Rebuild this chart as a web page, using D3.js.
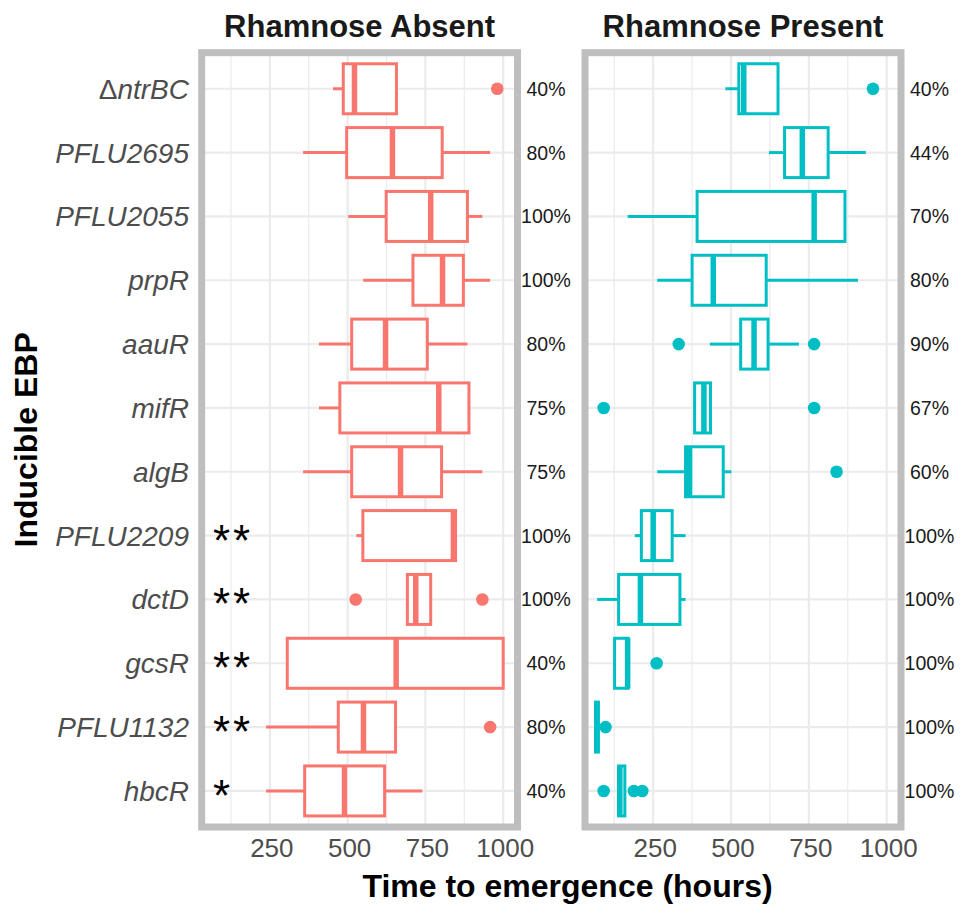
<!DOCTYPE html>
<html>
<head>
<meta charset="utf-8">
<script src="https://cdn.jsdelivr.net/npm/d3@7"></script>
<style>
  body { margin: 0; background: #fff; }
  text { font-family: "Liberation Sans", Arial, sans-serif; }
</style>
</head>
<body>
<svg width="960" height="905"></svg>
<script>
// inducible EBP, top to bottom
const categories = ["ΔntrBC", "PFLU2695", "PFLU2055", "prpR", "aauR", "mifR",
                    "algB", "PFLU2209", "dctD", "gcsR", "PFLU1132", "hbcR"];

// rhamnose absent: whisker low, Q1, median, Q3, whisker high, outliers
const absentLow  = [453, 357, 502, 550, 408, 408, 357, 528, 692, 306, 238, 238];
const absentQ1   = [486, 497, 624, 710, 513, 475, 513, 549, 692, 306, 470, 362];
const absentMed  = [522, 644, 767, 805, 622, 793, 670, 840, 719, 656, 551, 490];
const absentQ3   = [657, 804, 885, 872, 756, 890, 802, 847, 767, 1000, 654, 619];
const absentHigh = [657, 958, 933, 958, 885, 890, 933, 847, 767, 1000, 654, 740];
const absentOut  = [[981], [], [], [], [], [], [], [], [526, 933], [], [958], []];
const absentPct  = ["40%", "80%", "100%", "100%", "80%", "75%", "75%", "100%", "100%", "40%", "80%", "40%"];
const stars      = ["", "", "", "", "", "", "", "**", "**", "**", "**", "*"];

// rhamnose present
const presentLow  = [482, 622, 168, 263, 432, 383, 263, 191, 70, 126, 65, 139];
const presentQ1   = [525, 672, 391, 375, 531, 383, 354, 212, 139, 126, 65, 139];
const presentMed  = [541, 729, 767, 443, 574, 413, 367, 250, 209, 168, 69, 143];
const presentQ3   = [651, 812, 866, 613, 619, 434, 475, 311, 336, 170, 74, 159];
const presentHigh = [651, 933, 866, 908, 718, 434, 501, 354, 354, 170, 74, 159];
const presentOut  = [[956], [], [], [], [332, 767], [91, 767], [839], [], [], [261], [97], [91, 188, 215]];
const presentPct  = ["40%", "44%", "70%", "80%", "90%", "67%", "60%", "100%", "100%", "100%", "100%", "100%"];

const xTicks = [250, 500, 750, 1000];
const xMinor = [125, 375, 625, 875];

const panelTop = 52.7, panelBottom = 827;
const panels = [
  {title: "Rhamnose Absent", left: 201.7, right: 517.5, color: "#F8766D",
   low: absentLow, q1: absentQ1, med: absentMed, q3: absentQ3, high: absentHigh,
   out: absentOut, pct: absentPct},
  {title: "Rhamnose Present", left: 585, right: 901, color: "#00BFC4",
   low: presentLow, q1: presentQ1, med: presentMed, q3: presentQ3, high: presentHigh,
   out: presentOut, pct: presentPct}
];

const svg = d3.select("svg");

const y = d3.scalePoint()
  .domain(categories)
  .range([panelTop, panelBottom])
  .padding(0.565);
const boxH = 50;

panels.forEach((p, pi) => {
  const x = d3.scaleLinear().domain([31, 1046]).range([p.left, p.right]);
  const g = svg.append("g");

  // grid
  g.selectAll(".minor").data(xMinor).enter().append("line")
    .attr("x1", d => x(d)).attr("x2", d => x(d))
    .attr("y1", panelTop).attr("y2", panelBottom)
    .attr("stroke", "#EBEBEB").attr("stroke-width", 1.2);
  g.selectAll(".major").data(xTicks).enter().append("line")
    .attr("x1", d => x(d)).attr("x2", d => x(d))
    .attr("y1", panelTop).attr("y2", panelBottom)
    .attr("stroke", "#EBEBEB").attr("stroke-width", 2.2);
  g.selectAll(".hgrid").data(categories).enter().append("line")
    .attr("x1", p.left).attr("x2", p.right)
    .attr("y1", d => y(d)).attr("y2", d => y(d))
    .attr("stroke", "#EBEBEB").attr("stroke-width", 2.2);

  const rows = categories.map((c, i) => ({
    cat: c, low: p.low[i], q1: p.q1[i], med: p.med[i], q3: p.q3[i],
    high: p.high[i], out: p.out[i], pct: p.pct[i]
  }));

  // whiskers
  g.selectAll(".wl").data(rows.filter(d => d.low < d.q1)).enter().append("line")
    .attr("x1", d => x(d.low)).attr("x2", d => x(d.q1))
    .attr("y1", d => y(d.cat)).attr("y2", d => y(d.cat))
    .attr("stroke", p.color).attr("stroke-width", 3);
  g.selectAll(".wh").data(rows.filter(d => d.high > d.q3)).enter().append("line")
    .attr("x1", d => x(d.q3)).attr("x2", d => x(d.high))
    .attr("y1", d => y(d.cat)).attr("y2", d => y(d.cat))
    .attr("stroke", p.color).attr("stroke-width", 3);

  // boxes
  g.selectAll(".box").data(rows).enter().append("rect")
    .attr("x", d => x(d.q1))
    .attr("y", d => y(d.cat) - boxH / 2)
    .attr("width", d => x(d.q3) - x(d.q1))
    .attr("height", boxH)
    .attr("fill", "white")
    .attr("stroke", p.color).attr("stroke-width", 3);

  // medians
  g.selectAll(".med").data(rows).enter().append("line")
    .attr("x1", d => x(d.med)).attr("x2", d => x(d.med))
    .attr("y1", d => y(d.cat) - boxH / 2).attr("y2", d => y(d.cat) + boxH / 2)
    .attr("stroke", p.color).attr("stroke-width", 5.5);

  // outliers
  const outs = [];
  rows.forEach(d => d.out.forEach(v => outs.push({cat: d.cat, v: v})));
  g.selectAll(".out").data(outs).enter().append("circle")
    .attr("cx", d => x(d.v)).attr("cy", d => y(d.cat))
    .attr("r", 6.3).attr("fill", p.color);

  // panel border
  g.append("rect")
    .attr("x", p.left).attr("y", panelTop)
    .attr("width", p.right - p.left).attr("height", panelBottom - panelTop)
    .attr("fill", "none").attr("stroke", "#BEBEBE").attr("stroke-width", 7);

  // percentages
  g.selectAll(".pct").data(rows).enter().append("text")
    .attr("x", p.right + 28.5)
    .attr("y", d => y(d.cat) + 7)
    .attr("text-anchor", "middle")
    .attr("font-size", "19.5px")
    .attr("fill", "#1A1A1A")
    .text(d => d.pct);

  // x tick labels
  g.selectAll(".tick").data(xTicks).enter().append("text")
    .attr("x", d => x(d) + 2)
    .attr("y", 857)
    .attr("text-anchor", "middle")
    .attr("font-size", "26px")
    .attr("fill", "#4D4D4D")
    .text(d => d);

  // facet title
  g.append("text")
    .attr("x", (p.left + p.right) / 2)
    .attr("y", 36.5)
    .attr("text-anchor", "middle")
    .attr("font-size", "31px")
    .attr("font-weight", "bold")
    .attr("fill", "#1A1A1A")
    .text(p.title);

  if (pi === 0) {
    g.selectAll(".star").data(rows.map((d, i) => ({cat: d.cat, s: stars[i]})).filter(d => d.s))
      .enter().append("text")
      .attr("x", 213)
      .attr("y", d => y(d.cat) + 20)
      .attr("font-family", "DejaVu Sans")
      .attr("font-size", "44px")
      .attr("letter-spacing", "3px")
      .attr("fill", "black")
      .text(d => d.s);
  }
});

// y axis category labels
const ylab = svg.append("g").selectAll("text").data(categories).enter().append("text")
  .attr("x", 189)
  .attr("y", d => y(d) + 10)
  .attr("text-anchor", "end")
  .attr("font-size", "28px")
  .attr("font-style", "italic")
  .attr("fill", "#4D4D4D");
ylab.each(function(d) {
  const t = d3.select(this);
  if (d.startsWith("Δ")) {
    t.append("tspan").attr("font-style", "normal").text("Δ");
    t.append("tspan").text(d.slice(1));
  } else {
    t.text(d);
  }
});

// axis titles
svg.append("text")
  .attr("x", 567.5)
  .attr("y", 896.5)
  .attr("text-anchor", "middle")
  .attr("font-size", "32px")
  .attr("font-weight", "bold")
  .attr("fill", "black")
  .text("Time to emergence (hours)");

svg.append("text")
  .attr("transform", `translate(36.5, ${(panelTop + panelBottom) / 2}) rotate(-90)`)
  .attr("text-anchor", "middle")
  .attr("font-size", "32px")
  .attr("font-weight", "bold")
  .attr("fill", "black")
  .text("Inducible EBP");
</script>
</body>
</html>
